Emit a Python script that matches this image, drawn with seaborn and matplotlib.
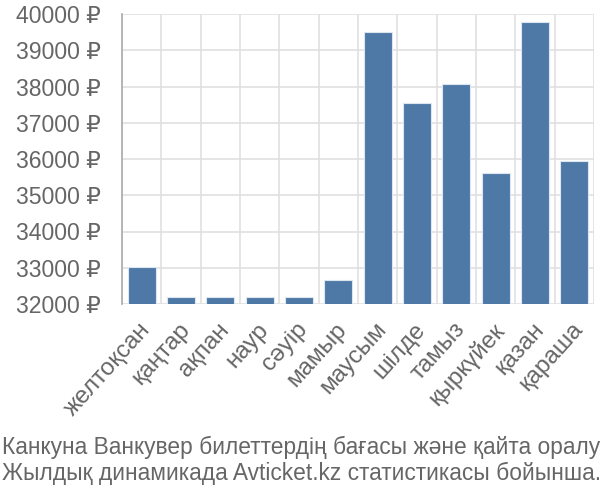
import matplotlib
matplotlib.use("Agg")
import matplotlib.pyplot as plt
import matplotlib.transforms as mtransforms
import seaborn as sns
import numpy as np
import pandas as pd
from matplotlib.ticker import FixedLocator, FuncFormatter

months = ["желтоқсан", "қаңтар", "ақпан", "наур", "сәуір", "мамыр",
          "маусым", "шілде", "тамыз", "қыркүйек", "қазан", "қараша"]
prices = [33010, 32200, 32200, 32200, 32200, 32650,
          39500, 37540, 38070, 35620, 39770, 35950]
yticks = [32000, 33000, 34000, 35000, 36000, 37000, 38000, 39000, 40000]
title_lines = ["Канкуна Ванкувер билеттердің бағасы және қайта оралу",
               "Жылдық динамикада Avticket.kz статистикасы бойынша."]

sns.set_theme(style="white")
plt.rcParams['font.family'] = ['Liberation Sans', 'DejaVu Sans']

df = pd.DataFrame({"month": months, "price": prices})

fig = plt.figure(figsize=(6, 5), dpi=100)
ax = fig.add_axes([122/600, 1 - 304/500, (594 - 122)/600, (304 - 14)/500])

sns.barplot(data=df, x="month", y="price", color="#4e79a7", saturation=1,
            width=0.72, edgecolor="#dce6f0", linewidth=0.8, ax=ax, zorder=3)

ax.set_ylim(32000, 40000)
ax.set_xlim(-0.5, len(months) - 0.5)
ax.yaxis.set_major_locator(FixedLocator(yticks))
ax.yaxis.set_major_formatter(FuncFormatter(lambda v, p: f"{int(v)} ₽"))

grid_c = "#e0e0e0"
ax.xaxis.set_minor_locator(FixedLocator(np.arange(-0.5, len(months), 1.0)))
ax.grid(True, which="minor", axis="x", color=grid_c, linewidth=1.2, zorder=0)
ax.grid(True, which="major", axis="y", color=grid_c, linewidth=1.2, zorder=0)
ax.tick_params(axis="x", which="minor", length=11, color=grid_c, width=1.2)
ax.tick_params(axis="x", which="major", length=0, pad=4)
ax.tick_params(axis="y", which="major", length=14, color=grid_c, width=1.2, pad=1)

for s in ["top", "right", "bottom"]:
    ax.spines[s].set_visible(False)
ax.spines["left"].set_color("#aaaaaa")
ax.spines["left"].set_linewidth(1.2)

ax.set_xlabel("")
ax.set_ylabel("")
for lab in ax.get_yticklabels():
    lab.set_fontsize(16.6)
    lab.set_color("#666666")
ax.set_xticks(range(len(months)))
ax.set_xticklabels(months, rotation=48, ha="right", va="top",
                   rotation_mode="anchor", fontsize=17.5, color="#666666")
offset = mtransforms.ScaledTranslation(-0.03, -0.09, fig.dpi_scale_trans)
for lab in ax.get_xticklabels():
    lab.set_transform(lab.get_transform() + offset)

fam = ['Liberation Sans Narrow', 'Liberation Sans', 'DejaVu Sans']
fig.text(0.003, 1 - 447/500, title_lines[0], fontsize=16.4, color="#666666",
         ha="left", va="center", family=fam)
fig.text(0.003, 1 - 473/500, title_lines[1], fontsize=16.4, color="#666666",
         ha="left", va="center", family=fam)

fig.savefig("out.png", dpi=100)
